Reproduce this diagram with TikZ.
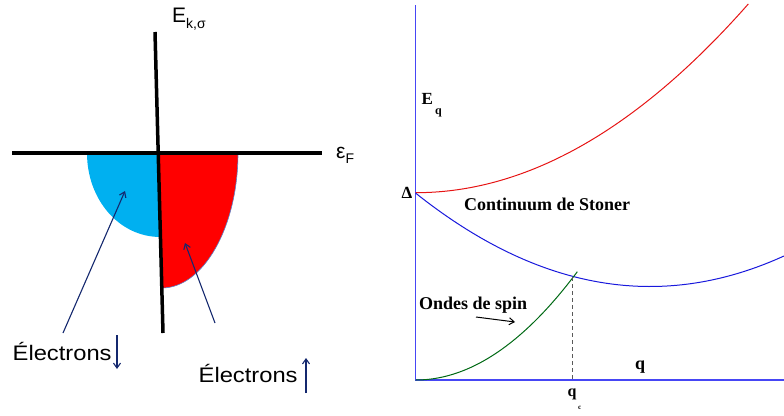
\documentclass[tikz,border=0pt]{standalone}
\usepackage{fontspec}
\setmainfont{Liberation Serif}
\newfontfamily\arialf{Liberation Sans}
\usetikzlibrary{arrows.meta}
\definecolor{cyanfill}{RGB}{0,176,240}
\definecolor{redfill}{RGB}{255,0,0}
\definecolor{navyarr}{RGB}{20,40,110}
\definecolor{axisblue}{RGB}{70,70,245}
\definecolor{curveblue}{RGB}{25,25,220}
\definecolor{curvered}{RGB}{230,20,20}
\definecolor{curvegreen}{RGB}{0,105,20}
\definecolor{edgeblue}{RGB}{90,130,200}
\begin{document}
\begin{tikzpicture}[x=1pt,y=-1pt,
  navyarrow/.style={draw=navyarr, line width=1.1pt, -{Straight Barb[length=5pt,width=7pt]}},
  sanslabel/.style={inner sep=0pt, font=\arialf\fontsize{21}{21}\selectfont},
  seriflabel/.style={inner sep=0pt, font=\bfseries\fontsize{18}{18}\selectfont},
  axisline/.style={draw=axisblue, line width=1.5pt},
  curve/.style={line width=1pt}]
\useasboundingbox (0,0) rectangle (784,415);

% ---------- left diagram ----------
\coordinate (vtop) at (155,32);
\coordinate (vbot) at (163,333);
\coordinate (hl) at (12,153);
\coordinate (hr) at (322,153);

\fill[cyanfill] (158.4,153) -- (87,153) .. controls (87,199.4) and (119,237) .. (160.4,237) -- cycle;
\fill[redfill] (159.5,153) -- (238,153) .. controls (238,227.6) and (203,288) .. (161.8,288) -- cycle;
\draw[edgeblue, line width=0.6pt] (238,153) .. controls (238,227.6) and (203,288) .. (161.8,288);

\draw[line width=4pt] (hl) -- (hr);
\draw[line width=3.5pt] (vtop) -- (vbot);

\node[sanslabel, anchor=base west] (Ek) at (172,22) {E\raisebox{-6pt}{\fontsize{14}{14}\selectfont k,σ}};
\node[sanslabel, anchor=base west] (eF) at (336,158) {ε\raisebox{-5pt}{\fontsize{14}{14}\selectfont F}};

\node[sanslabel, anchor=base west] (eldown) at (12.5,360) {\scalebox{1.13}[1]{Électrons}};
\node[sanslabel, anchor=base west] (elup) at (198.5,382) {\scalebox{1.13}[1]{Électrons}};

\coordinate (a1s) at (63,333);
\coordinate (a1e) at (125,191);
\coordinate (a2s) at (215,323);
\coordinate (a2e) at (185,243);
\draw[navyarrow] (a1s) -- (a1e);
\draw[navyarrow] (a2s) -- (a2e);
\coordinate (d1) at (117,335);
\coordinate (d2) at (117,369);
\coordinate (u1) at (306,393);
\coordinate (u2) at (306,358);
\draw[navyarrow] (d1) -- (d2);
\draw[navyarrow] (u1) -- (u2);

% ---------- right diagram ----------
\coordinate (O) at (415.7,380);
\coordinate (ytop) at (415.7,5);
\coordinate (xend) at (784,380);
\draw[axisline] (ytop) -- (O) -- (xend);

\draw[curve, curvered] plot[domain=415.7:748.3, samples=80] (\x, {192.7-17.06*((\x-415.7)/100)^2});
\draw[curve, curveblue] plot[domain=415.7:784, samples=80] (\x, {286.5-17*((\x-650)/100)^2});
\draw[curve, curvegreen] plot[domain=415.7:577.3, samples=60] (\x, {380-41.47*((\x-415.7)/100)^2});

\coordinate (qctop) at (572.7,277);
\coordinate (qcbot) at (572.7,380);
\draw[gray!70!black, line width=1.3pt, dash pattern=on 4pt off 3pt] (qctop) -- (qcbot);

\node[seriflabel, anchor=base west, font=\bfseries\fontsize{17}{17}\selectfont] (Eq) at (421.5,104) {E};
\node[seriflabel, anchor=base west, font=\bfseries\fontsize{12}{12}\selectfont] (Eqs) at (435,114.5) {q};
\node[seriflabel, anchor=base west, font=\bfseries\fontsize{17}{17}\selectfont] (Delta) at (401.5,198.3) {Δ};
\node[seriflabel, anchor=base west] (stoner) at (464,210) {Continuum de Stoner};
\node[seriflabel, anchor=base west] (ondes) at (419,309) {Ondes de spin};
\node[seriflabel, anchor=base west] (qlab) at (635,369) {q};
\node[seriflabel, anchor=base west, font=\bfseries\fontsize{16}{16}\selectfont] (qc) at (567.5,396) {q};
\node[seriflabel, anchor=base west, font=\bfseries\fontsize{7}{7}\selectfont] (qcs) at (578,409) {c};

\coordinate (sa1) at (476,317);
\coordinate (sa2) at (515,322);
\draw[black, line width=1pt, -{Straight Barb[length=5pt,width=7pt]}] (sa1) -- (sa2);
\end{tikzpicture}
\end{document}
